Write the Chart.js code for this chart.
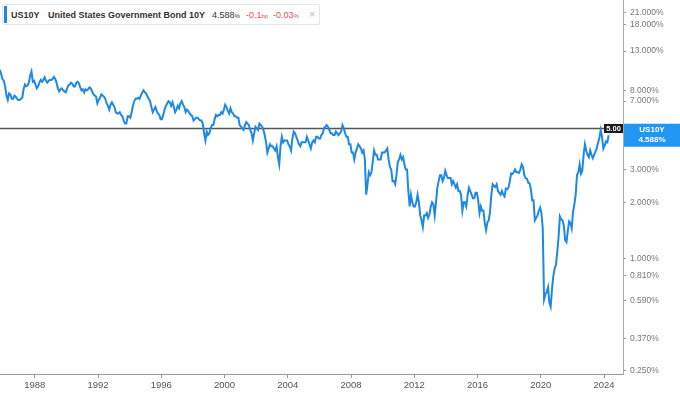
<!DOCTYPE html>
<html>
<head>
<meta charset="utf-8">
<script src="https://cdn.jsdelivr.net/npm/chart.js@4.4.1/dist/chart.umd.min.js"></script>
<style>
  body { margin: 0; background: #fff; }
  #wrap { position: relative; width: 680px; height: 396px; }
  #legend { position: absolute; left: 2px; top: 4px; width: 316px; height: 19px; border: 1px solid #e6e6e6; border-radius: 2px; background: #fff;
    font: bold 9px "Liberation Sans", Arial, sans-serif; color: #333; }
  #legend span { position: absolute; top: 5px; white-space: nowrap; }
  #legend .bar { left: 1px; top: 1px; width: 3px; height: 17px; background: #1e88e5; }
  #legend .red { color: #e0524c; font-weight: normal; }
  #legend small { font-size: 6px; }
</style>
</head>
<body>
<div id="wrap">
  <canvas id="bond-chart" width="680" height="396"></canvas>
  <div id="legend">
    <span class="bar"></span>
    <span style="left:8px">US10Y</span>
    <span style="left:45px">United States Government Bond 10Y</span>
    <span style="left:209px;font-weight:normal">4.588<small>%</small></span>
    <span class="red" style="left:243px">-0.1<small>bp</small></span>
    <span class="red" style="left:270px">-0.03<small>%</small></span>
    <span style="left:306px;color:#bbb;font-weight:normal;font-size:11px;top:3px">×</span>
  </div>
</div>
<script>
// monthly 10Y yields (%), first value = Oct 1985
var startYear = 1985, startMonth = 10;
var yields1980s = [10.3, 9.8, 9.2,
  9.0, 8.4, 7.5, 7.1, 7.7, 7.6, 7.2, 7.2, 7.5, 7.4, 7.2, 7.1,
  7.1, 7.2, 7.3, 8.1, 8.6, 8.4, 8.5, 8.8, 9.6, 10.1, 8.9, 9.0,
  8.6, 8.2, 8.4, 8.8, 9.1, 8.9, 9.1, 9.4, 9.0, 8.8, 9.0, 9.1,
  9.1, 9.2, 9.45, 9.2, 8.8, 8.2, 7.9, 8.1, 8.2, 8.0, 7.9, 7.8];
var yields1990s = [8.2, 8.5, 8.6, 8.8, 8.7, 8.4, 8.4, 8.8, 8.9, 8.7, 8.3, 8.0,
  8.1, 7.8, 8.1, 8.0, 8.1, 8.3, 8.2, 7.9, 7.6, 7.5, 7.4, 6.8,
  7.1, 7.3, 7.6, 7.5, 7.4, 7.2, 6.8, 6.6, 6.3, 6.7, 6.9, 6.7,
  6.5, 6.1, 6.0, 6.0, 6.1, 5.9, 5.8, 5.5, 5.3, 5.3, 5.8, 5.8,
  5.7, 6.1, 6.6, 7.0, 7.2, 7.2, 7.3, 7.2, 7.5, 7.8, 8.0, 7.8,
  7.7, 7.4, 7.2, 7.0, 6.5, 6.1, 6.3, 6.5, 6.2, 6.0, 5.9, 5.6,
  5.6, 5.9, 6.3, 6.6, 6.8, 7.0, 6.9, 6.6, 6.9, 6.5, 6.1, 6.3,
  6.6, 6.4, 6.8, 7.0, 6.7, 6.5, 6.1, 6.3, 6.2, 6.0, 5.9, 5.8,
  5.5, 5.6, 5.7, 5.7, 5.6, 5.5, 5.5, 5.3, 4.7, 4.3, 4.8, 4.6,
  4.7, 5.0, 5.2, 5.2, 5.6, 5.9, 5.8, 5.9, 5.9, 6.1, 6.0, 6.3];
var yields2000s = [6.7, 6.5, 6.2, 6.0, 6.4, 6.1, 6.0, 5.8, 5.8, 5.7, 5.7, 5.2,
  5.1, 5.0, 4.9, 5.2, 5.4, 5.3, 5.2, 4.9, 4.7, 4.3, 4.7, 5.1,
  5.0, 4.9, 5.3, 5.2, 5.1, 4.9, 4.6, 4.2, 3.7, 3.9, 4.1, 4.0,
  4.0, 3.9, 3.8, 4.0, 3.5, 3.2, 4.0, 4.5, 4.2, 4.3, 4.3, 4.3,
  4.1, 4.0, 3.8, 4.4, 4.8, 4.7, 4.5, 4.3, 4.1, 4.0, 4.2, 4.2,
  4.2, 4.2, 4.5, 4.3, 4.1, 3.9, 4.2, 4.3, 4.2, 4.5, 4.5, 4.4,
  4.4, 4.6, 4.7, 5.0, 5.1, 5.2, 5.1, 4.9, 4.7, 4.7, 4.6, 4.6,
  4.8, 4.7, 4.6, 4.7, 4.8, 5.2, 5.0, 4.7, 4.5, 4.5, 4.1, 4.1,
  3.7, 3.7, 3.4, 3.7, 3.9, 4.1, 4.0, 3.9, 3.7, 3.8, 3.4, 2.2,
  2.5, 2.9, 2.8, 2.9, 3.3, 3.8, 3.6, 3.6, 3.4, 3.4, 3.4, 3.7];
var yields2010s = [3.7, 3.7, 3.8, 3.9, 3.4, 3.1, 3.0, 2.6, 2.6, 2.5, 2.8, 3.3,
  3.4, 3.6, 3.4, 3.5, 3.2, 3.0, 3.0, 2.3, 1.9, 2.2, 2.0, 1.9,
  1.9, 2.0, 2.2, 2.0, 1.7, 1.6, 1.47, 1.7, 1.7, 1.75, 1.65, 1.72,
  1.9, 2.0, 1.95, 1.7, 2.0, 2.4, 2.6, 2.8, 2.8, 2.6, 2.7, 2.95,
  2.8, 2.7, 2.7, 2.7, 2.5, 2.6, 2.5, 2.4, 2.5, 2.3, 2.3, 2.2,
  1.8, 2.0, 2.0, 1.9, 2.2, 2.4, 2.3, 2.2, 2.1, 2.1, 2.25, 2.25,
  2.05, 1.75, 1.9, 1.8, 1.8, 1.55, 1.42, 1.56, 1.6, 1.78, 2.2, 2.5,
  2.45, 2.42, 2.5, 2.3, 2.25, 2.2, 2.3, 2.2, 2.15, 2.37, 2.35, 2.4,
  2.6, 2.86, 2.84, 2.9, 3.0, 2.9, 2.9, 2.88, 3.0, 3.2, 3.1, 2.8,
  2.7, 2.68, 2.55, 2.53, 2.35, 2.05, 2.05, 1.6, 1.65, 1.7, 1.8, 1.87];
var yields2020s = [1.75, 1.45, 0.6, 0.64, 0.66, 0.7, 0.58, 0.55, 0.68, 0.8, 0.88, 0.92,
  1.08, 1.3, 1.68, 1.62, 1.6, 1.5, 1.25, 1.22, 1.4, 1.58, 1.55, 1.45,
  1.78, 1.95, 2.2, 2.8, 2.9, 3.2, 2.85, 2.95, 3.6, 4.1, 3.8, 3.6,
  3.5, 3.8, 3.6, 3.45, 3.6, 3.75, 3.9, 4.2, 4.45, 4.9, 4.5, 3.9,
  4.05, 4.25, 4.2, 4.588];

var xTickYears = [1988, 1992, 1996, 2000, 2004, 2008, 2012, 2016, 2020, 2024];
var yTickValues = [0.25, 0.37, 0.59, 0.81, 1, 2, 3, 7, 8, 13, 18, 21];
var refLevel = 5.00;
var symbol = 'US10Y';

var allYields = [].concat(yields1980s, yields1990s, yields2000s, yields2010s, yields2020s);
var points = allYields.map(function (v, i) {
  return { x: startYear + (startMonth - 1 + i + 0.5) / 12, y: v };
});
var lastYield = allYields[allYields.length - 1];

var font = '"Liberation Sans", Arial, sans-serif';

const priceLabels = {
  id: 'priceLabels',
  beforeDatasetsDraw(chart) {
    const { ctx, chartArea, scales: { y } } = chart;
    const yRef = Math.round(y.getPixelForValue(refLevel)) + 0.5;
    ctx.save();
    ctx.strokeStyle = '#555';
    ctx.lineWidth = 1.5;
    ctx.beginPath();
    ctx.moveTo(chartArea.left, yRef);
    ctx.lineTo(chartArea.right, yRef);
    ctx.stroke();
    ctx.restore();
  },
  afterDraw(chart) {
    const { ctx, chartArea, scales: { y } } = chart;
    const yRef = Math.round(y.getPixelForValue(refLevel)) + 0.5;
    ctx.save();
    ctx.fillStyle = '#1b1b1b';
    ctx.fillRect(chartArea.right - 19, yRef - 4.5, 19, 9);
    ctx.fillStyle = '#fff';
    ctx.font = 'bold 7.5px ' + font;
    ctx.textAlign = 'center';
    ctx.textBaseline = 'middle';
    ctx.fillText(refLevel.toFixed(2), chartArea.right - 9.5, yRef + 0.5);

    const yLast = y.getPixelForValue(lastYield);
    const left = chartArea.right + 1;
    ctx.fillStyle = '#2196f3';
    ctx.fillRect(left, yLast - 11.5, chart.width - left, 23);
    ctx.fillStyle = '#fff';
    ctx.font = 'bold 8px ' + font;
    ctx.fillText(symbol, (left + chart.width) / 2, yLast - 5);
    ctx.fillText(lastYield.toFixed(3) + '%', (left + chart.width) / 2, yLast + 5);
    ctx.restore();
  }
};

new Chart(document.getElementById('bond-chart'), {
  type: 'line',
  data: {
    datasets: [{
      data: points,
      borderColor: '#1e88e5',
      borderWidth: 2,
      pointRadius: 0,
      tension: 0,
      fill: false
    }]
  },
  options: {
    responsive: false,
    animation: false,
    layout: { padding: 0 },
    plugins: {
      legend: { display: false },
      tooltip: { enabled: false }
    },
    scales: {
      x: {
        type: 'linear',
        min: 1985.8,
        max: 2025.2,
        afterBuildTicks: function (scale) {
          scale.ticks = xTickYears.map(function (v) { return { value: v }; });
        },
        afterFit: function (scale) {
          scale.height = 22;
          scale.paddingLeft = 0;
          scale.paddingRight = 0;
        },
        grid: { drawOnChartArea: false, tickLength: 4, color: '#999' },
        border: { color: '#999' },
        ticks: {
          color: '#555',
          padding: 2,
          autoSkip: false,
          maxRotation: 0,
          font: { size: 9.5, family: font },
          callback: function (v) { return String(v); }
        }
      },
      y: {
        type: 'logarithmic',
        position: 'right',
        min: 0.2388,
        max: 24.47,
        afterBuildTicks: function (scale) {
          scale.ticks = yTickValues.map(function (v) { return { value: v }; });
        },
        afterFit: function (scale) {
          scale.width = 57;
          scale.paddingTop = 0;
          scale.paddingBottom = 0;
        },
        grid: { drawOnChartArea: false, tickLength: 3, color: '#999' },
        border: { color: '#aaa' },
        ticks: {
          color: '#777',
          padding: 4,
          autoSkip: false,
          font: { size: 8.5, family: font },
          callback: function (v) { return Number(v).toFixed(3) + '%'; }
        }
      }
    }
  },
  plugins: [priceLabels]
});
</script>
</body>
</html>
